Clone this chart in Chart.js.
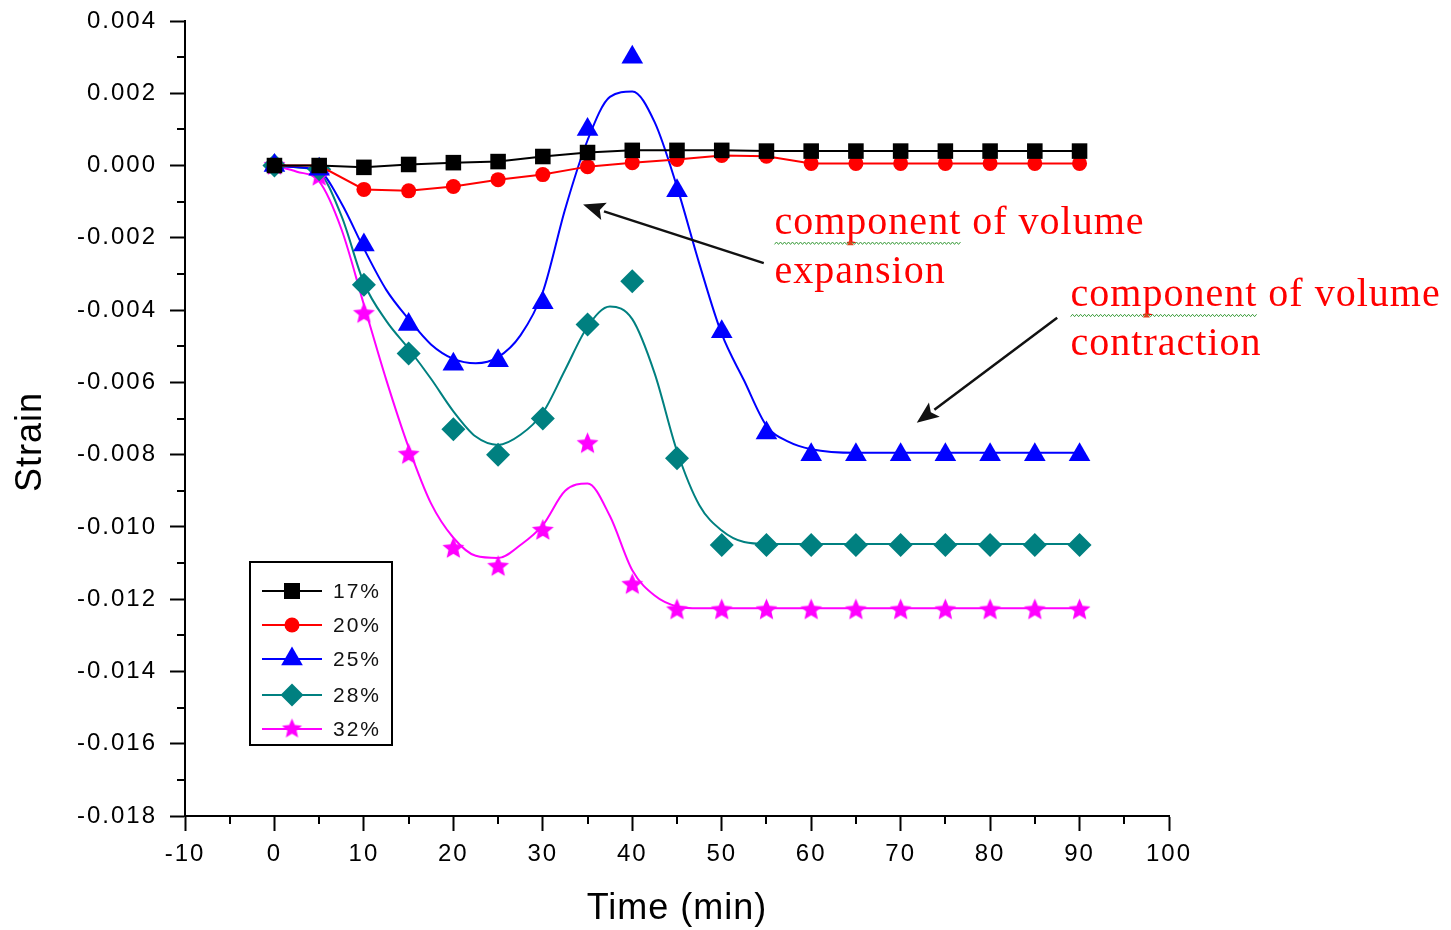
<!DOCTYPE html>
<html><head><meta charset="utf-8">
<script src="https://cdn.jsdelivr.net/npm/chart.js@4.4.1/dist/chart.umd.min.js"></script>
<style>html,body{margin:0;padding:0;background:#fff;}canvas{display:block;}</style>
</head><body>
<canvas id="c" width="1451" height="930"></canvas>
<script>
// ---------- data ----------
const times = [0,5,10,15,20,25,30,35,40,45,50,55,60,65,70,75,80,85,90];
const strain17 = [0,0,-0.00005,0.00003,0.00008,0.00011,0.00025,0.00036,0.00042,0.00042,0.00042,0.0004,0.0004,0.0004,0.0004,0.0004,0.0004,0.0004,0.0004];
const strain20 = [0,0,-0.00066,-0.0007,-0.00058,-0.00039,-0.00025,-0.00003,0.00008,0.00017,0.00028,0.00026,0.00006,0.00006,0.00006,0.00006,0.00006,0.00006,0.00006];
const strain25 = [0,-0.0001,-0.0022,-0.0044,-0.0055,-0.0054,-0.0038,0.001,0.003,-0.0007,-0.0046,-0.0074,-0.008,-0.008,-0.008,-0.008,-0.008,-0.008,-0.008];
const strain28 = [0,-0.0001,-0.0033,-0.0052,-0.0073,-0.008,-0.007,-0.0044,-0.0032,-0.0081,-0.0105,-0.0105,-0.0105,-0.0105,-0.0105,-0.0105,-0.0105,-0.0105,-0.0105];
const strain32 = [0,-0.0003,-0.0041,-0.008,-0.0106,-0.0111,-0.0101,-0.0077,-0.0116,-0.0123,-0.0123,-0.0123,-0.0123,-0.0123,-0.0123,-0.0123,-0.0123,-0.0123,-0.0123];

// smoothed (fitted) curves
const curveTimes = [0,2.5,5,7.5,10,12.5,15,17.5,20,22.5,25,27.5,30,32.5,35,37.5,40,42.5,45,47.5,50,52.5,55,57.5,60,65,70,75,80,85,90];
const curve25 = [0,-0.00005,-0.00015,-0.00105,-0.0023,-0.00344,-0.00425,-0.00495,-0.00535,-0.00547,-0.0053,-0.0047,-0.0035,-0.0012,0.0007,0.0019,0.00205,0.0012,-0.00059,-0.00272,-0.00466,-0.00595,-0.0072,-0.00765,-0.00785,-0.00795,-0.00795,-0.00795,-0.00795,-0.00795,-0.00795];
const curve28 = [0,-0.00005,-0.0002,-0.0014,-0.00325,-0.0043,-0.00507,-0.0059,-0.0068,-0.0075,-0.00773,-0.00745,-0.00684,-0.00565,-0.00446,-0.0039,-0.00425,-0.00575,-0.0079,-0.0094,-0.0101,-0.01042,-0.01047,-0.01047,-0.01047,-0.01047,-0.01047,-0.01047,-0.01047,-0.01047,-0.01047];
const curve32 = [0,-0.00017,-0.00044,-0.00177,-0.00385,-0.00593,-0.0078,-0.00935,-0.0103,-0.0108,-0.01086,-0.0105,-0.00995,-0.009,-0.0088,-0.0097,-0.0112,-0.0119,-0.0122,-0.01225,-0.01225,-0.01225,-0.01225,-0.01225,-0.01225,-0.01225,-0.01225,-0.01225,-0.01225,-0.01225,-0.01225];

const seriesLabels = ['17%','20%','25%','28%','32%'];
const seriesColors = ['#000000','#FF0000','#0000FF','#008080','#FF00FF'];

const xTicks = [-10,0,10,20,30,40,50,60,70,80,90,100];
const yTicks = [0.004,0.002,0,-0.002,-0.004,-0.006,-0.008,-0.010,-0.012,-0.014,-0.016,-0.018];
const xTitle = 'Time (min)';
const yTitle = 'Strain';

// annotation texts & anchors (data coordinates)
const noteLines1 = ['component of volume','expansion'];
const noteAnchor1 = {t:55.9, v:[-0.0019,-0.00324]};
const arrow1 = {from:[54.7,-0.0027], to:[34.5,-0.00108]};
const noteLines2 = ['component of volume','contraction'];
const noteAnchor2 = {t:89.0, v:[-0.0039,-0.00524]};
const arrow2 = {from:[87.5,-0.00421], to:[71.8,-0.00712]};

// ---------- helpers ----------
function pts(xs, ys){ return xs.map((x,i)=>({x:x, y:ys[i]})); }
function makeStar(color, R, r){
  const s = Math.ceil(R*2+2);
  const c = document.createElement('canvas'); c.width=s; c.height=s;
  const g = c.getContext('2d'); g.fillStyle=color; g.beginPath();
  for(let i=0;i<10;i++){
    const rad = (i%2)? r : R;
    const a = -Math.PI/2 + i*Math.PI/5;
    const x = s/2 + rad*Math.cos(a), y = s/2 + rad*Math.sin(a);
    if(i===0) g.moveTo(x,y); else g.lineTo(x,y);
  }
  g.closePath(); g.fill();
  return c;
}
const starImg = makeStar('#FF00FF', 11.5, 5.2);
const starImgSmall = makeStar('#FF00FF', 10.5, 4.8);

const markerStyles = [
  {pointStyle:'rect', radius:11},
  {pointStyle:'circle', radius:7.5},
  {pointStyle:'triangle', radius:12.5},
  {pointStyle:'rectRot', radius:12},
  {pointStyle:starImg, radius:11}
];
const markerSeries = [strain17,strain20,strain25,strain28,strain32];

const datasets = [];
markerSeries.forEach((s,i)=>{
  const lineThrough = i<2;
  datasets.push({
    label: seriesLabels[i],
    data: pts(times, s),
    showLine: lineThrough,
    borderColor: seriesColors[i],
    backgroundColor: seriesColors[i],
    borderWidth: 2,
    pointStyle: markerStyles[i].pointStyle,
    pointRadius: markerStyles[i].radius,
    pointBorderWidth: 0,
    pointBackgroundColor: seriesColors[i],
    pointBorderColor: seriesColors[i],
    tension: 0,
    order: 0
  });
});
[[curve25,2],[curve28,3],[curve32,4]].forEach(([c,i])=>{
  datasets.push({
    label: seriesLabels[i]+' fit',
    data: pts(curveTimes, c),
    showLine: true,
    borderColor: seriesColors[i],
    borderWidth: 2,
    pointRadius: 0,
    cubicInterpolationMode: 'monotone',
    order: 1
  });
});

// ---------- plugins ----------
const spacingPlugin = {
  id:'spacing',
  beforeDraw(chart){ chart.ctx.letterSpacing = '2px'; }
};

const decorPlugin = {
  id:'decor',
  afterDraw(chart){
    const ctx = chart.ctx, xs = chart.scales.x, ys = chart.scales.y, ca = chart.chartArea;
    ctx.save();
    // minor ticks
    ctx.strokeStyle='#000'; ctx.lineWidth=2;
    for(let i=0;i<xTicks.length-1;i++){
      const px = Math.round(xs.getPixelForValue((xTicks[i]+xTicks[i+1])/2));
      ctx.beginPath(); ctx.moveTo(px, ca.bottom); ctx.lineTo(px, ca.bottom+8); ctx.stroke();
    }
    for(let i=0;i<yTicks.length-1;i++){
      const py = Math.round(ys.getPixelForValue((yTicks[i]+yTicks[i+1])/2));
      ctx.beginPath(); ctx.moveTo(ca.left, py); ctx.lineTo(ca.left-8, py); ctx.stroke();
    }
    // axis titles
    ctx.fillStyle='#000';
    ctx.letterSpacing='1px';
    ctx.font = '36px "Liberation Sans", Arial, sans-serif';
    ctx.textAlign='center'; ctx.textBaseline='middle';
    ctx.fillText(xTitle, (ca.left+ca.right)/2, 909);
    ctx.save();
    ctx.translate(31, ca.top + 421);
    ctx.rotate(-Math.PI/2);
    ctx.fillText(yTitle, 0, 0);
    ctx.restore();

    // legend
    const bx = ca.left+65, by = ca.top+541, bw = 142, bh = 183;
    ctx.lineWidth=2; ctx.strokeStyle='#000';
    ctx.strokeRect(bx, by, bw, bh);
    ctx.font = '21px "Liberation Sans", Arial, sans-serif';
    ctx.letterSpacing='2px';
    ctx.textAlign='left'; ctx.textBaseline='middle';
    const rowY = [29,63,97,133,167];
    seriesLabels.forEach((lab,i)=>{
      const y = by+rowY[i];
      ctx.strokeStyle=seriesColors[i]; ctx.lineWidth=2;
      ctx.beginPath(); ctx.moveTo(bx+12,y); ctx.lineTo(bx+72,y); ctx.stroke();
      const mx = bx+42;
      ctx.fillStyle=seriesColors[i];
      ctx.beginPath();
      if(i===0){ ctx.rect(mx-8,y-8,16,16); }
      else if(i===1){ ctx.arc(mx,y,7.5,0,Math.PI*2); }
      else if(i===2){ const r=12.5; ctx.moveTo(mx,y-r); ctx.lineTo(mx+r*0.866,y+r/2); ctx.lineTo(mx-r*0.866,y+r/2); ctx.closePath(); }
      else if(i===3){ const r=11.5; ctx.moveTo(mx-r,y); ctx.lineTo(mx,y-r); ctx.lineTo(mx+r,y); ctx.lineTo(mx,y+r); ctx.closePath(); }
      if(i<4) ctx.fill();
      else ctx.drawImage(starImgSmall, mx-starImgSmall.width/2, y-starImgSmall.height/2);
      ctx.fillStyle='#111';
      ctx.fillText(lab, bx+83, y+1);
    });

    // arrows
    function arrow(a){
      const x1=xs.getPixelForValue(a.from[0]), y1=ys.getPixelForValue(a.from[1]);
      const x2=xs.getPixelForValue(a.to[0]), y2=ys.getPixelForValue(a.to[1]);
      const ang=Math.atan2(y2-y1,x2-x1), L=22, W=9;
      const bxp=x2-L*Math.cos(ang), byp=y2-L*Math.sin(ang);
      ctx.strokeStyle='#111'; ctx.lineWidth=2.5;
      ctx.beginPath(); ctx.moveTo(x1,y1); ctx.lineTo(bxp,byp); ctx.stroke();
      ctx.fillStyle='#111'; ctx.beginPath();
      ctx.moveTo(x2,y2);
      ctx.lineTo(bxp+W*Math.sin(ang), byp-W*Math.cos(ang));
      ctx.lineTo(x2-L*0.8*Math.cos(ang), y2-L*0.8*Math.sin(ang));
      ctx.lineTo(bxp-W*Math.sin(ang), byp+W*Math.cos(ang));
      ctx.closePath(); ctx.fill();
    }
    arrow(arrow1); arrow(arrow2);

    // annotation text
    function note(lines, anc){
      ctx.font='40px "Liberation Serif", "Times New Roman", serif';
      ctx.letterSpacing='1px';
      ctx.textAlign='left'; ctx.textBaseline='alphabetic';
      ctx.fillStyle='#FF0000';
      const x0 = xs.getPixelForValue(anc.t);
      lines.forEach((ln,i)=>{ ctx.fillText(ln, x0, ys.getPixelForValue(anc.v[i])); });
      // spell-check wavy underline under first word
      const y0 = ys.getPixelForValue(anc.v[0]) + 9;
      const w = ctx.measureText('component').width;
      ctx.strokeStyle='#3c9c3c'; ctx.lineWidth=1;
      ctx.beginPath();
      for(let x=0;x<=w;x+=2){ const yy = y0 + ((x/2)%2 ? -1.2 : 1.2); if(x===0) ctx.moveTo(x0+x,yy); else ctx.lineTo(x0+x,yy); }
      ctx.stroke();
      const tx = x0 + ctx.measureText('com').width + 4;
      ctx.fillStyle='#e0401a'; ctx.beginPath();
      ctx.moveTo(tx, y0-3); ctx.lineTo(tx+3.5, y0+2); ctx.lineTo(tx-3.5, y0+2); ctx.closePath(); ctx.fill();
    }
    note(noteLines1, noteAnchor1);
    note(noteLines2, noteAnchor2);
    ctx.restore();
  }
};

// ---------- chart ----------
const tickFont = {family:'"Liberation Sans", Arial, sans-serif', size:24};
new Chart(document.getElementById('c'), {
  type:'scatter',
  data:{datasets:datasets},
  options:{
    responsive:false, animation:false, devicePixelRatio:1,
    layout:{padding:{left:0, top:21, right:282, bottom:0}},
    plugins:{legend:{display:false}, tooltip:{enabled:false}},
    scales:{
      x:{
        type:'linear', min:-10, max:100,
        afterBuildTicks(s){ s.ticks = xTicks.map(v=>({value:v})); },
        afterFit(s){ s.height = 114; s.paddingLeft = 0; s.paddingRight = 0; },
        grid:{display:true, drawOnChartArea:false, drawTicks:true, tickLength:15, tickWidth:2, tickColor:'#000'},
        border:{display:true, color:'#000', width:2},
        ticks:{autoSkip:false, maxRotation:0, color:'#000', font:tickFont, padding:9, callback:v=>String(v)},
        title:{display:false}
      },
      y:{
        type:'linear', min:-0.018, max:0.004,
        afterBuildTicks(s){ s.ticks = yTicks.map(v=>({value:v})); },
        afterFit(s){ s.width = 185; s.paddingTop = 0; s.paddingBottom = 0; },
        grid:{display:true, drawOnChartArea:false, drawTicks:true, tickLength:15, tickWidth:2, tickColor:'#000'},
        border:{display:true, color:'#000', width:2},
        ticks:{autoSkip:false, color:'#000', font:tickFont, padding:13, callback:v=>(Math.abs(v)<1e-12?0:v).toFixed(3)},
        title:{display:false}
      }
    }
  },
  plugins:[spacingPlugin, decorPlugin]
});
</script>
</body></html>
